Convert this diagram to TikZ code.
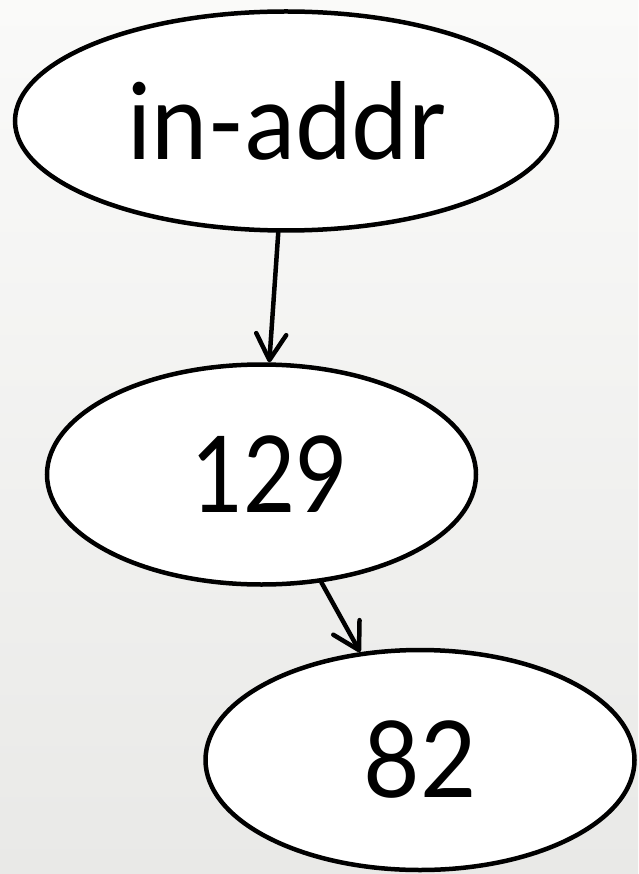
\documentclass[tikz,border=0pt]{standalone}
\usepackage{fontspec}
\setmainfont{Lato}
\usetikzlibrary{shapes.geometric,arrows.meta}
\definecolor{bgtop}{HTML}{FAFAF9}
\definecolor{bgbottom}{HTML}{E9E9E7}
\tikzset{
  labelnode/.style={ellipse, draw=black, line width=4.5pt, fill=white,
    inner sep=0pt, font=\fontsize{106}{110}\selectfont},
  wide/.style={minimum width=542pt, minimum height=219pt},
  narrow/.style={minimum width=429pt, minimum height=220pt},
  link/.style={line width=4.5pt, line cap=round,
    -{Straight Barb[length=26pt, width=30pt, line cap=round, line join=round]}}
}
\begin{document}
\begin{tikzpicture}[x=1pt, y=-1pt]
  % soft grey backdrop
  \shade[top color=bgtop, bottom color=bgbottom] (0,0) rectangle (638,874);
  \useasboundingbox (0,0) rectangle (638,874);

  \node[labelnode, wide]   (root) at (286,121)   {\scalebox{0.95}[1]{in-addr}};
  \node[labelnode, narrow] (mid)  at (261.5,474.5) {\hspace*{16pt}\scalebox{0.85}[1]{129}};
  \node[labelnode, narrow] (leaf) at (420,760)   {\scalebox{0.92}[1]{82}};

  \draw[link] (root) -- (mid);
  \draw[link] (mid) -- (leaf);
\end{tikzpicture}
\end{document}
